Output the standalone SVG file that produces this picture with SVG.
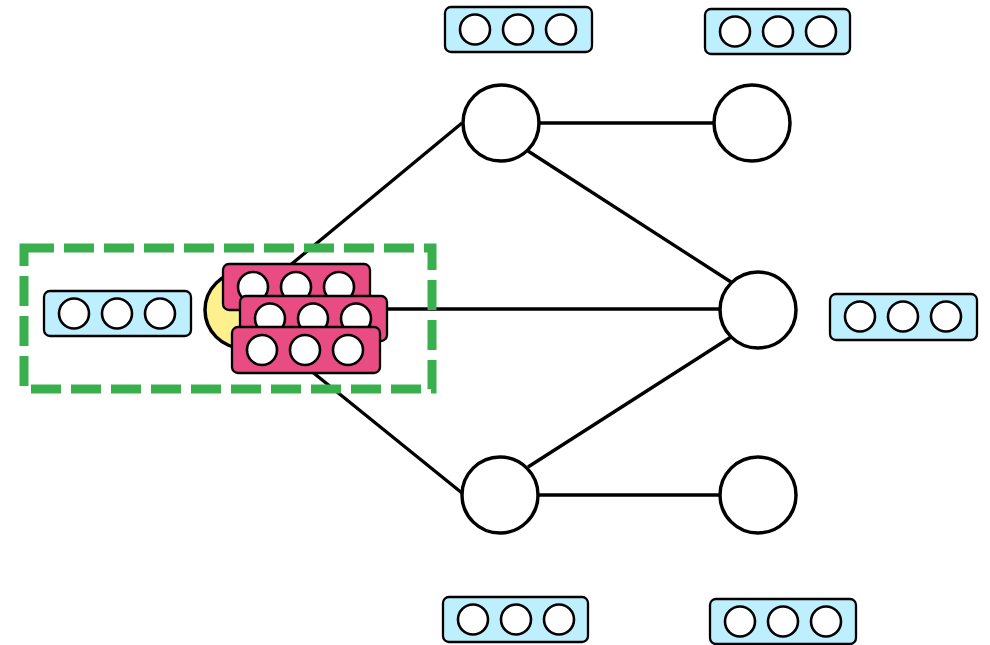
<svg xmlns="http://www.w3.org/2000/svg" width="990" height="645" viewBox="0 0 990 645">
<style>
.edge{stroke:#000;stroke-width:3.3;fill:none}
.node{fill:#fff;stroke:#000;stroke-width:3.5}
.vec{fill:#BDEFFF;stroke:#000;stroke-width:2.3}
.pvec{fill:#E94B83;stroke:#000;stroke-width:2.3}
.dot{fill:#fff;stroke:#000;stroke-width:2.6}
</style>
<defs>
<g id="dots">
<circle class="dot" cx="30" cy="22.5" r="15"/>
<circle class="dot" cx="73" cy="22.5" r="15"/>
<circle class="dot" cx="116" cy="22.5" r="15"/>
</g>
</defs>
<rect width="990" height="645" fill="#fff"/>
<g id="connectors">
<line class="edge" x1="265" y1="286" x2="462" y2="123"/>
<line class="edge" x1="380" y1="309" x2="720" y2="309"/>
<line class="edge" x1="300" y1="362" x2="462" y2="493"/>
<line class="edge" x1="538" y1="123" x2="714" y2="123"/>
<line class="edge" x1="528" y1="151" x2="731" y2="282"/>
<line class="edge" x1="528" y1="467" x2="731" y2="337"/>
<line class="edge" x1="538" y1="495" x2="720" y2="495"/>
</g>
<g id="node-top-mid"><circle class="node" cx="501" cy="123" r="38"/></g>
<g id="node-top-right"><circle class="node" cx="752" cy="123" r="38"/></g>
<g id="node-mid-right"><circle class="node" cx="758" cy="310" r="38"/></g>
<g id="node-bot-mid"><circle class="node" cx="500" cy="495" r="38"/></g>
<g id="node-bot-right"><circle class="node" cx="758" cy="495" r="38"/></g>
<g id="node-yellow"><circle cx="243" cy="310" r="38" fill="#FFF08E" stroke="#000" stroke-width="3.5"/></g>
<g id="vec-pink-1" transform="translate(223,264)"><rect class="pvec" width="147" height="46" rx="6"/><use href="#dots" transform="translate(0,0.5)"/></g>
<g id="vec-pink-2" transform="translate(240,296)"><rect class="pvec" width="147" height="45" rx="6"/><use href="#dots"/></g>
<g id="vec-pink-3" transform="translate(232,327)"><rect class="pvec" width="148" height="46" rx="6"/><use href="#dots" transform="translate(0,0.5)"/></g>
<g id="vec-left" transform="translate(44,291)"><rect class="vec" width="147" height="45" rx="6"/><use href="#dots"/></g>
<g id="vec-top-mid" transform="translate(445,7)"><rect class="vec" width="147" height="45" rx="6"/><use href="#dots"/></g>
<g id="vec-top-right" transform="translate(705,9)"><rect class="vec" width="145" height="45" rx="6"/><use href="#dots"/></g>
<g id="vec-mid-right" transform="translate(830,294)"><rect class="vec" width="147" height="46" rx="6"/><use href="#dots"/></g>
<g id="vec-bot-mid" transform="translate(443,597)"><rect class="vec" width="145" height="45" rx="6"/><use href="#dots"/></g>
<g id="vec-bot-right" transform="translate(710,599)"><rect class="vec" width="146" height="45" rx="6"/><use href="#dots"/></g>
<g id="group-box"><rect x="24" y="248" width="408" height="141" fill="none" stroke="#3AAF4E" stroke-width="9" stroke-dasharray="30 10"/></g>
</svg>
